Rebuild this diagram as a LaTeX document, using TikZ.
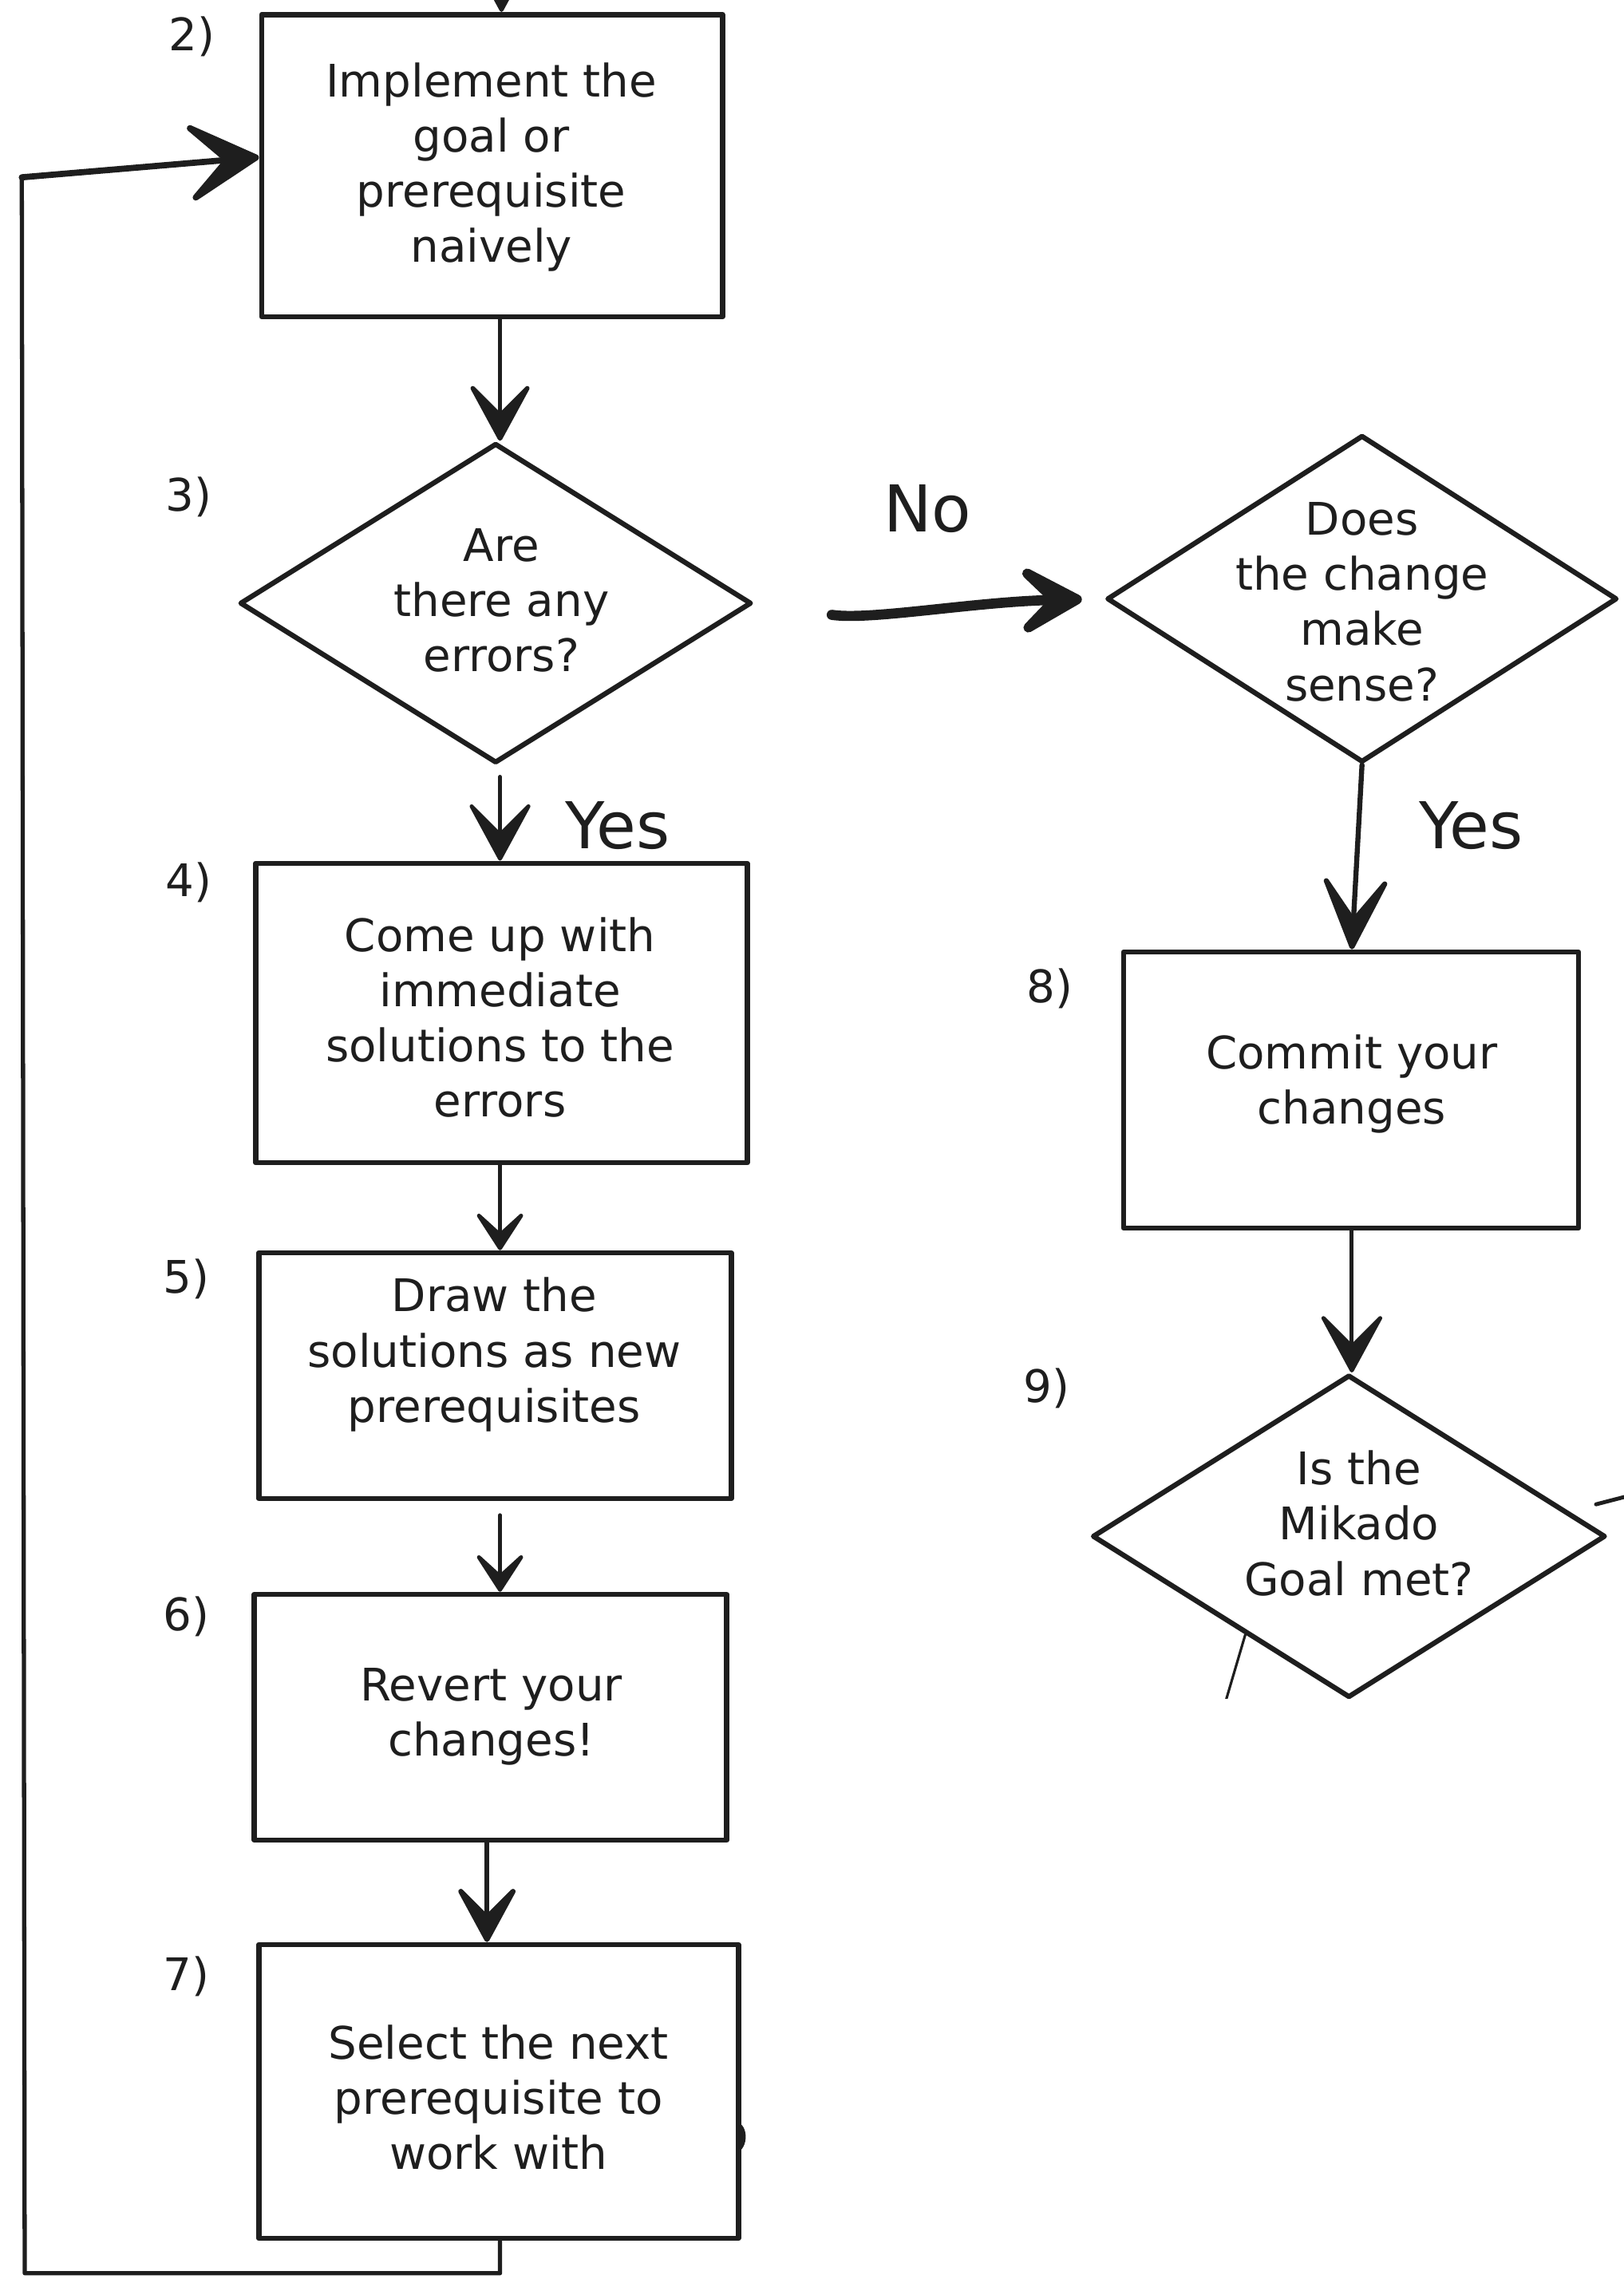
\documentclass[tikz,border=0pt]{standalone}
\usepackage{fontspec}
\setmainfont{DejaVu Sans}
\usetikzlibrary{arrows.meta,shapes.geometric,calc}
\definecolor{ink}{HTML}{1E1E1E}
\begin{document}
\begin{tikzpicture}[x=0.01821cm,y=-0.01821cm,
  line join=round, line cap=round,
  box/.style 2 args={draw=ink, line width=1.9pt, minimum width=#1*0.01821cm,
    minimum height=#2*0.01821cm, inner sep=0pt},
  dia/.style 2 args={draw=ink, diamond, line width=1.8pt, minimum width=#1*0.01821cm,
    minimum height=#2*0.01821cm, inner sep=0pt},
  txt/.style={text=ink, align=center, font=\fontsize{16}{19.7}\selectfont, inner sep=0pt},
  num/.style={text=ink, font=\fontsize{16}{19}\selectfont, inner sep=0pt},
  ans/.style={text=ink, font=\fontsize{23}{26}\selectfont, inner sep=0pt},
  link/.style={draw=ink, line width=1.4pt},
  bighead/.style={-{Stealth[length=24pt,width=26pt,inset=13pt,round]}},
  longhead/.style={-{Stealth[length=32pt,width=29pt,inset=19pt,round]}},
  midhead/.style={-{Stealth[length=17pt,width=22pt,inset=10pt,round]}},
  hugehead/.style={-{Stealth[length=31pt,width=34pt,inset=17pt,round]}},
]
% canvas
\fill[white] (0,0) rectangle (1117,1568);
\useasboundingbox (0,0) rectangle (1117,1568);

% process boxes and decisions
\node[box={317}{208}] (b2) at (338.5,114) {};
\node[dia={352}{220}] (d3) at (341,415) {};
\node[dia={351}{225}] (d8) at (937,412) {};
\node[box={338}{206}] (b4) at (345,697) {};
\node[box={313}{190}] (b8) at (929.5,750) {};
\node[box={325}{169}] (b5) at (340.5,946.5) {};
\node[dia={353}{222}] (d9) at (928,1057) {};
\node[box={325}{169}] (b6) at (337.5,1181.5) {};
\node[box={330}{202}] (b7) at (343,1439) {};

% texts
\node[txt] (t2) at (338,115) {Implement the\\goal or\\prerequisite\\naively};
\node[txt] (t3) at (345,413) {Are\\there any\\errors?};
\node[txt] (t8q) at (937,414) {Does\\the change\\make\\sense?};
\node[txt] (t4) at (344,700) {Come up with\\immediate\\solutions to the\\errors};
\node[txt] (t5) at (340,932) {Draw the\\solutions as new\\prerequisites};
\node[txt] (t6) at (338,1181) {Revert your\\changes!};
\node[txt] (t7) at (343,1443) {Select the next\\prerequisite to\\work with};
\node[txt] (t8) at (930,746) {Commit your\\changes};
\node[txt] (t9) at (935,1048) {Is the\\Mikado\\Goal met?};

% step numbers
\node[num] (n2) at (132,25) {2)};
\node[num] (n3) at (130,342) {3)};
\node[num] (n4) at (130,607) {4)};
\node[num] (n5) at (128,880) {5)};
\node[num] (n6) at (128,1112) {6)};
\node[num] (n7) at (128,1360) {7)};
\node[num] (n8) at (722,680) {8)};
\node[num] (n9) at (720,955) {9)};

% answers
\node[ans] (no) at (638,350) {No};
\node[ans] (yes1) at (425,568) {Yes};
\node[ans] (yes2) at (1012,568) {Yes};

% vertical lanes of the connectors
\coordinate (xa) at (344,0);
\coordinate (xb) at (335,0);
\coordinate (xc) at (930,0);

% incoming arrow from above
\coordinate (topin) at (345,-60);
\draw[link,bighead] (topin) -- (topin |- b2.north);

% main column
\draw[link,line width=1.6pt,bighead] (xa |- b2.south) -- (xa |- d3.north);
\draw[link,bighead] ([yshift=-4pt]xa |- d3.south) -- (xa |- b4.north);
\draw[link,midhead] (xa |- b4.south) -- (xa |- b5.north);
\draw[link,midhead] ([yshift=-5pt]xa |- b5.south) -- (xa |- b6.north);
\draw[link,line width=1.8pt,bighead] (xb |- b6.south) -- (xb |- b7.north);

% "No" branch
\draw[draw=ink,line width=3.6pt,hugehead,shorten <=28pt,shorten >=8pt]
  (d3.east) .. controls ($(d3.east)+(80,12)$) and ($(d8.west)+(-90,2)$) .. (d8.west);

% right column
\draw[link,line width=1.8pt,longhead] (d8.south) -- (xc |- b8.north);
\draw[link,bighead] (xc |- b8.south) -- (xc |- d9.north);

% loop back from step 7 to step 2
\coordinate (lb) at (17,1564);
\coordinate (lt) at (15,122);
\draw[link,line width=1.5pt] (xa |- b7.south) -- (xa |- lb) -- (lb) -- (lt);
\draw[link,line width=2.2pt,hugehead] (lt) -- ([yshift=3pt]b2.west);

% partial connectors at the right
\coordinate (rin) at (1125,1028);
\draw[link] (rin) -- (1098,1035);
\coordinate (dout) at (836,1195);
\draw[draw=ink,line width=0.9pt] ($(d9.west)!0.6!(d9.south)$) -- (dout);
\fill[ink] (507,1460) .. controls (515,1462) and (515,1478) .. (507,1481) -- cycle;

% the lower right part is left blank
\fill[white] (700,1169) rectangle (1117,1568);
\end{tikzpicture}
\end{document}
